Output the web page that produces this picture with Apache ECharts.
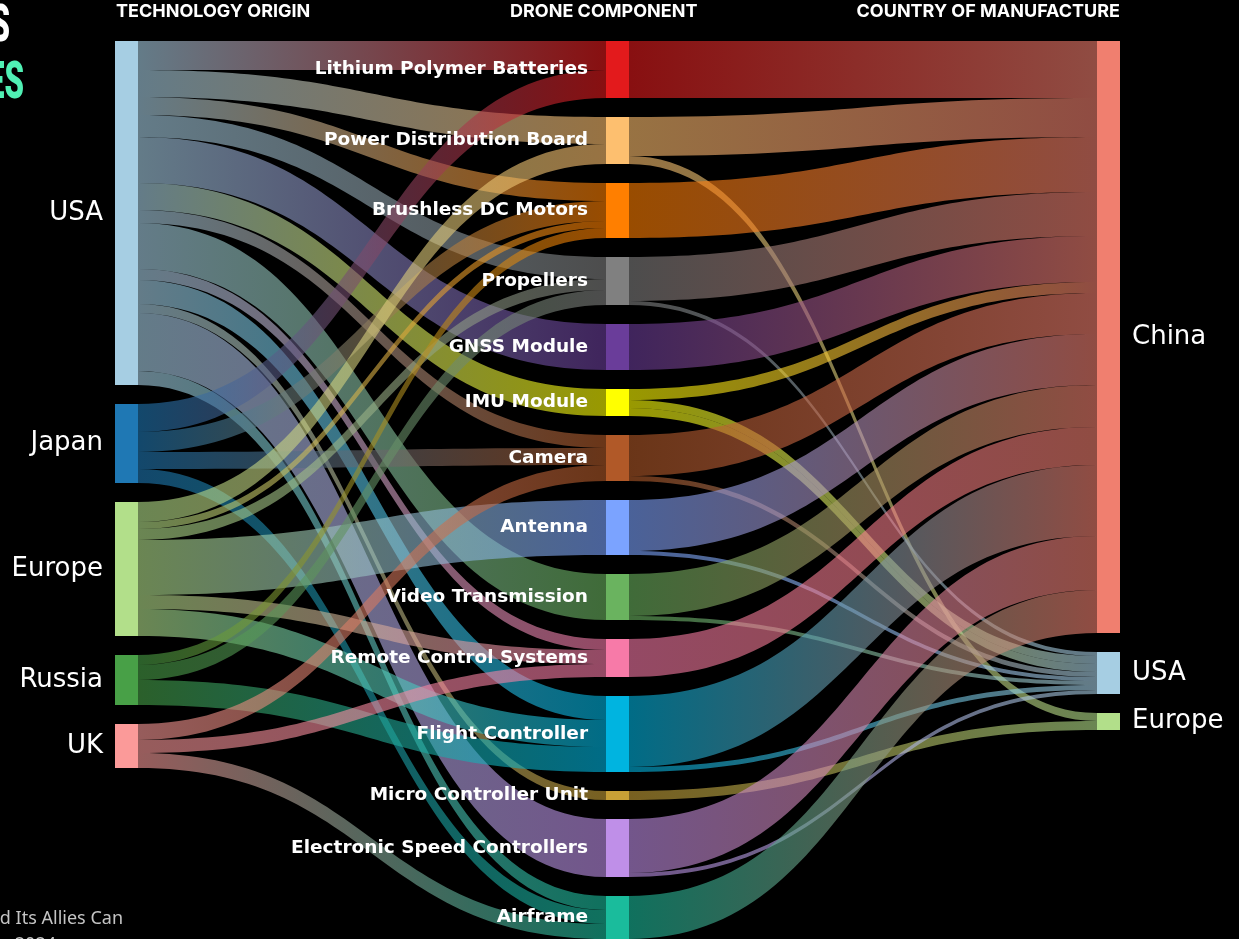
<!DOCTYPE html>
<html>
<head>
<meta charset="utf-8">
<script src="https://cdn.jsdelivr.net/npm/echarts@6/dist/echarts.min.js"></script>
<style>
  html, body { margin: 0; padding: 0; background: #000; }
  #main { width: 1239px; height: 939px; }
</style>
</head>
<body>
<div id="main"></div>
<script>
// columns of the sankey
const origins = ["USA", "Japan", "Europe", "Russia", "UK"];
const originColors = ["#a6cee3", "#1f78b4", "#b2df8a", "#48a047", "#fb9a99"];

const components = [
  "Lithium Polymer Batteries", "Power Distribution Board", "Brushless DC Motors",
  "Propellers", "GNSS Module", "IMU Module", "Camera", "Antenna",
  "Video Transmission", "Remote Control Systems", "Flight Controller",
  "Micro Controller Unit", "Electronic Speed Controllers", "Airframe"
];
const componentColors = [
  "#e31a1c", "#fdbf6f", "#ff7f00", "#808080", "#6a3d9a", "#ffff00", "#b15928",
  "#7ba3ff", "#6ab35f", "#f77aa8", "#00b4e0", "#c8a036", "#bf8fe8", "#1abc9c"
];

const makers = ["China", "USA", "Europe"];
const makerColors = ["#f07f6f", "#a6cee3", "#b2df8a"];

// origin -> component
const originLinks = [
  ["USA", "Lithium Polymer Batteries", 29],
  ["USA", "Power Distribution Board", 27],
  ["USA", "Brushless DC Motors", 18],
  ["USA", "Propellers", 22],
  ["USA", "GNSS Module", 46],
  ["USA", "IMU Module", 27],
  ["USA", "Camera", 13],
  ["USA", "Video Transmission", 46],
  ["USA", "Remote Control Systems", 11],
  ["USA", "Flight Controller", 24],
  ["USA", "Micro Controller Unit", 9],
  ["USA", "Electronic Speed Controllers", 58],
  ["USA", "Airframe", 14],
  ["Japan", "Lithium Polymer Batteries", 28],
  ["Japan", "Brushless DC Motors", 20],
  ["Japan", "Camera", 17],
  ["Japan", "Airframe", 14],
  ["Europe", "Power Distribution Board", 20],
  ["Europe", "Brushless DC Motors", 7],
  ["Europe", "Propellers", 11],
  ["Europe", "Antenna", 55],
  ["Europe", "Remote Control Systems", 14],
  ["Europe", "Flight Controller", 27],
  ["Russia", "Brushless DC Motors", 10],
  ["Russia", "Propellers", 15],
  ["Russia", "Flight Controller", 25],
  ["UK", "Camera", 16],
  ["UK", "Remote Control Systems", 13],
  ["UK", "Airframe", 15]
];

// component -> country of manufacture
const makerLinks = [
  ["Lithium Polymer Batteries", "China", 57],
  ["Power Distribution Board", "China", 39],
  ["Power Distribution Board", "Europe", 8],
  ["Brushless DC Motors", "China", 55],
  ["Propellers", "China", 44],
  ["Propellers", "USA", 4],
  ["GNSS Module", "China", 46],
  ["IMU Module", "China", 11],
  ["IMU Module", "USA", 8],
  ["IMU Module", "USA", 8],
  ["Camera", "China", 41],
  ["Camera", "USA", 5],
  ["Antenna", "China", 51],
  ["Antenna", "USA", 4],
  ["Video Transmission", "China", 42],
  ["Video Transmission", "USA", 4],
  ["Remote Control Systems", "China", 38],
  ["Flight Controller", "China", 71],
  ["Flight Controller", "USA", 5],
  ["Micro Controller Unit", "Europe", 9],
  ["Electronic Speed Controllers", "China", 54],
  ["Electronic Speed Controllers", "USA", 4],
  ["Airframe", "China", 43]
];

const headers = ["TECHNOLOGY ORIGIN", "DRONE COMPONENT", "COUNTRY OF MANUFACTURE"];

// maker names clash with origin names, so give them their own ids
const makerId = (m) => m + " (made)";

const sideLabel = {
  color: "#ffffff",
  fontFamily: "DejaVu Sans",
  fontSize: 26,
  fontWeight: "normal",
  distance: 12
};

let nodes = [];
origins.forEach((o, i) => {
  nodes.push({
    name: o,
    itemStyle: { color: originColors[i] },
    label: Object.assign({ position: "left" }, sideLabel)
  });
});
components.forEach((c, i) => {
  nodes.push({
    name: c,
    itemStyle: { color: componentColors[i] },
    label: {
      position: "left",
      distance: 18,
      color: "#ffffff",
      fontFamily: "DejaVu Sans",
      fontWeight: "bold",
      fontSize: 18.5
    }
  });
});
makers.forEach((m, i) => {
  nodes.push({
    name: makerId(m),
    itemStyle: { color: makerColors[i] },
    label: Object.assign({ position: "right", formatter: m }, sideLabel)
  });
});

const links = originLinks
  .map((l) => ({ source: l[0], target: l[1], value: l[2] }))
  .concat(makerLinks.map((l) => ({ source: l[0], target: makerId(l[1]), value: l[2] })));

const headFont = "bold 18px Inter";
const titleFont = "900 52px Roboto";

const chart = echarts.init(document.getElementById("main"));
chart.setOption({
  backgroundColor: "#000000",
  animation: false,
  graphic: [
    // column headers
    { type: "text", left: 116, top: 3, style: { text: headers[0], fill: "#fff", font: headFont } },
    { type: "text", left: 510, top: 3, style: { text: headers[1], fill: "#fff", font: headFont } },
    { type: "text", right: 119, top: 3, style: { text: headers[2], fill: "#fff", font: headFont } },
    // title cut off on the left edge
    { type: "text", x: 10, y: 28, scaleX: 0.6, style: { text: "S", fill: "#fff", align: "right", verticalAlign: "middle", font: titleFont } },
    { type: "text", x: 24, y: 85, scaleX: 0.6, style: { text: "ES", fill: "#50f0b4", align: "right", verticalAlign: "middle", font: titleFont } },
    // source note cut off on the left edge
    { type: "text", x: 123, y: 919, style: { text: "the US and Its Allies Can", fill: "#c4c4c4", align: "right", verticalAlign: "middle", font: "18px 'Noto Sans'" } },
    { type: "text", x: 56, y: 945, style: { text: "r 2024", fill: "#c4c4c4", align: "right", verticalAlign: "middle", font: "18px 'Noto Sans'" } }
  ],
  series: [
    {
      type: "sankey",
      left: 115,
      right: 119,
      top: 41,
      bottom: 0,
      nodeWidth: 23,
      nodeGap: 19,
      layoutIterations: 0,
      nodeAlign: "justify",
      draggable: false,
      emphasis: { disabled: true },
      data: nodes,
      links: links,
      itemStyle: { borderWidth: 0 },
      lineStyle: { color: "gradient", opacity: 0.6, curveness: 0.5 },
      label: { textBorderWidth: 0 }
    }
  ]
});
</script>
</body>
</html>
